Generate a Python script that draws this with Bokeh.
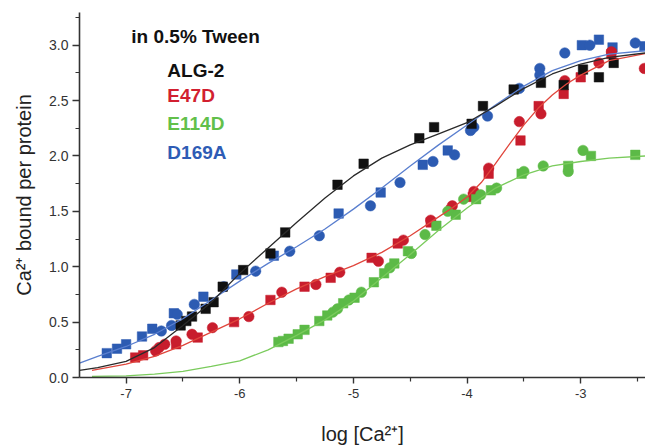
from bokeh.plotting import figure
from bokeh.models import Range1d, FixedTicker, Label
from bokeh.embed import file_html
from bokeh.resources import INLINE

# ---------------- data (log[Ca2+], Ca2+ bound per protein) ----------------
# ALG-2 (black squares)
alg2_sq_x = [-6.52, -6.47, -6.42, -6.30, -6.23, -6.15, -5.97, -5.73, -5.60, -5.14, -4.91,
             -4.42, -4.29, -3.96, -3.86, -3.59, -3.35, -3.15, -2.98, -2.84, -2.71]
alg2_sq_y = [0.47, 0.51, 0.55, 0.62, 0.68, 0.82, 0.97, 1.12, 1.31, 1.74, 1.93,
             2.16, 2.26, 2.29, 2.45, 2.60, 2.66, 2.64, 2.78, 2.71, 2.84]

# E47D (red)
e47d_sq_x = [-6.92, -6.85, -6.56, -6.37, -6.05, -5.73, -5.43, -5.20, -4.84, -4.61, -4.32,
             -4.14, -3.95, -3.81, -3.53, -3.37, -3.15, -3.00, -2.73]
e47d_sq_y = [0.18, 0.20, 0.30, 0.36, 0.50, 0.70, 0.82, 0.90, 1.08, 1.21, 1.40,
             1.51, 1.63, 1.84, 2.14, 2.45, 2.56, 2.71, 2.92]
e47d_ci_x = [-6.74, -6.71, -6.66, -6.56, -6.42, -6.24, -5.92, -5.63, -5.33, -5.12, -4.78,
             -4.56, -4.32, -4.13, -3.94, -3.81, -3.54, -3.35, -3.14, -2.84, -2.73, -2.44]
e47d_ci_y = [0.24, 0.27, 0.30, 0.33, 0.39, 0.45, 0.55, 0.77, 0.84, 0.95, 1.05,
             1.24, 1.42, 1.55, 1.68, 1.89, 2.31, 2.38, 2.68, 2.84, 2.94, 2.79]

# E114D (green)
e114d_sq_x = [-5.66, -5.62, -5.57, -5.49, -5.43, -5.30, -5.23, -5.09, -4.99, -4.82, -4.73,
              -4.64, -4.52, -4.27, -4.10, -3.92, -3.79, -3.52, -3.11, -2.91, -2.52]
e114d_sq_y = [0.32, 0.33, 0.35, 0.39, 0.43, 0.51, 0.56, 0.67, 0.72, 0.86, 0.94,
              1.03, 1.14, 1.37, 1.47, 1.61, 1.69, 1.84, 1.91, 2.00, 2.01]
e114d_ci_x = [-5.18, -5.14, -5.04, -4.93, -4.68, -4.49, -4.37, -4.17, -4.03, -3.88, -3.74,
              -3.50, -3.33, -3.11, -2.98]
e114d_ci_y = [0.59, 0.62, 0.70, 0.77, 0.99, 1.12, 1.29, 1.50, 1.61, 1.65, 1.71,
              1.86, 1.91, 1.86, 2.05]

# D169A (blue)
d169a_sq_x = [-7.17, -7.08, -7.00, -6.86, -6.77, -6.58, -6.32, -6.03, -5.70, -5.13, -4.76,
              -4.39, -4.17, -2.99, -2.84, -2.72, -2.44]
d169a_sq_y = [0.22, 0.26, 0.30, 0.37, 0.44, 0.58, 0.73, 0.93, 1.10, 1.48, 1.67,
              1.92, 2.05, 3.00, 3.05, 2.98, 2.99]
d169a_ci_x = [-6.69, -6.60, -6.55, -6.40, -6.14, -5.86, -5.56, -5.30, -4.85, -4.59, -4.30,
              -4.11, -3.97, -3.94, -3.82, -3.54, -3.36, -3.36, -3.14, -2.92, -2.52]
d169a_ci_y = [0.42, 0.47, 0.57, 0.66, 0.82, 0.96, 1.14, 1.28, 1.55, 1.76, 1.95,
              2.01, 2.23, 2.26, 2.36, 2.61, 2.79, 2.73, 2.93, 3.00, 3.02]

# fitted curves
fit_x = [-7.41, -7.25, -7.0, -6.75, -6.5, -6.25, -6.0, -5.75, -5.5, -5.25, -5.0,
         -4.75, -4.5, -4.25, -4.0, -3.75, -3.5, -3.25, -3.0, -2.75, -2.43]
alg2_fit_y = [0.065, 0.09, 0.145, 0.27, 0.47, 0.68, 0.94, 1.17, 1.40, 1.62, 1.82,
              1.98, 2.10, 2.20, 2.30, 2.45, 2.61, 2.74, 2.83, 2.89, 2.93]
d169a_fit_y = [0.13, 0.19, 0.28, 0.39, 0.53, 0.70, 0.87, 1.03, 1.18, 1.34, 1.52,
               1.71, 1.91, 2.10, 2.28, 2.46, 2.63, 2.77, 2.86, 2.92, 2.95]
e47d_fit_x = [-7.30, -7.0, -6.75, -6.5, -6.25, -6.0, -5.75, -5.5, -5.25, -5.0, -4.75,
              -4.5, -4.25, -4.125, -4.0, -3.875, -3.75, -3.625, -3.5, -3.375, -3.25,
              -3.125, -3.0, -2.75, -2.43]
e47d_fit_y = [0.065, 0.12, 0.19, 0.29, 0.41, 0.53, 0.67, 0.80, 0.91, 1.01, 1.13,
              1.28, 1.45, 1.535, 1.63, 1.76, 1.93, 2.11, 2.28, 2.43, 2.55,
              2.65, 2.73, 2.86, 2.925]
e114d_fit_x = [-7.30, -7.0, -6.75, -6.5, -6.25, -6.0, -5.75, -5.5, -5.25, -5.0,
               -4.75, -4.5, -4.25, -4.0, -3.75, -3.5, -3.25, -3.0, -2.75, -2.43]
e114d_fit_y = [0.01, 0.015, 0.03, 0.055, 0.10, 0.15, 0.25, 0.38, 0.52, 0.69,
               0.90, 1.11, 1.33, 1.53, 1.71, 1.83, 1.91, 1.95, 1.98, 2.00]

x_major = [-7, -6, -5, -4, -3]
x_minor = [-6.5, -5.5, -4.5, -3.5, -2.5]
y_major = [0.0, 0.5, 1.0, 1.5, 2.0, 2.5, 3.0]
y_minor = [0.25, 0.75, 1.25, 1.75, 2.25, 2.75, 3.25]

title_text = "in 0.5% Tween"
legend_names = ["ALG-2", "E47D", "E114D", "D169A"]

# ---------------- styles ----------------
BLACK, RED, GREEN, BLUE = "#111111", "#c81d2d", "#5cba47", "#2c5bb2"
BLACK_L, RED_L, GREEN_L, BLUE_L = "#2a2a2a", "#e0463c", "#7acb5c", "#5a7fcf"
FONT = "Liberation Sans"

p = figure(width=645, height=447, output_backend="svg", toolbar_location=None,
           x_range=Range1d(-7.41, -2.43), y_range=Range1d(0, 3.295),
           min_border_left=79, min_border_right=0, min_border_top=12,
           min_border_bottom=67)
p.grid.visible = False
p.outline_line_color = None
p.background_fill_color = "white"
p.border_fill_color = "white"

xa = p.xaxis[0]
xa.ticker = FixedTicker(ticks=x_major, minor_ticks=x_minor)
xa.major_label_overrides = {t: str(t) for t in x_major}
ya = p.yaxis[0]
ya.ticker = FixedTicker(ticks=y_major, minor_ticks=y_minor)
ya.major_label_overrides = {t: f"{t:.1f}" for t in y_major}

for ax in (xa, ya):
    ax.axis_line_color = "#333333"
    ax.axis_line_width = 1.6
    ax.major_tick_line_color = "#333333"
    ax.minor_tick_line_color = "#333333"
    ax.major_tick_line_width = 1.4
    ax.minor_tick_line_width = 1.2
    ax.major_tick_in = 0
    ax.minor_tick_in = 0
    ax.major_label_text_font = FONT
    ax.major_label_text_color = "#333333"
    ax.axis_label_text_font = FONT
    ax.axis_label_text_font_style = "normal"
    ax.axis_label_text_color = "#222222"
    ax.axis_label_text_font_size = "20px"

xa.major_tick_out = 6
xa.minor_tick_out = 4
xa.major_label_text_font_size = "13px"
xa.major_label_standoff = 5
xa.axis_label = "log [Ca²⁺]"
xa.axis_label_standoff = 22

ya.major_tick_out = 7
ya.minor_tick_out = 4
ya.major_label_text_font_size = "14px"
ya.major_label_standoff = 4
ya.axis_label = "Ca²⁺ bound per protein"
ya.axis_label_standoff = 11

# markers
def pts(xs, ys, color, marker):
    p.scatter(xs, ys, marker=marker, size=(9.5 if marker == "square" else 10.5),
              fill_color=color, line_color=color, line_width=0.5)

pts(d169a_sq_x, d169a_sq_y, BLUE, "square")
pts(d169a_ci_x, d169a_ci_y, BLUE, "circle")
pts(e47d_sq_x, e47d_sq_y, RED, "square")
pts(e47d_ci_x, e47d_ci_y, RED, "circle")
pts(e114d_sq_x, e114d_sq_y, GREEN, "square")
pts(e114d_ci_x, e114d_ci_y, GREEN, "circle")
pts(alg2_sq_x, alg2_sq_y, BLACK, "square")

# fitted curves
p.line(fit_x, d169a_fit_y, line_color=BLUE_L, line_width=1.3)
p.line(e47d_fit_x, e47d_fit_y, line_color=RED_L, line_width=1.3)
p.line(e114d_fit_x, e114d_fit_y, line_color=GREEN_L, line_width=1.3)
p.line(fit_x, alg2_fit_y, line_color=BLACK_L, line_width=1.3)

# legend texts
p.add_layout(Label(x=-6.954, y=3.08, text=title_text, text_font=FONT,
                   text_font_style="bold", text_font_size="19px",
                   text_color="#111111", text_baseline="middle"))
leg_colors = [BLACK, "#d21f30", "#62c04a", "#2e5cb5"]
leg_y = [2.77, 2.545, 2.29, 2.035]
for name, c, yy in zip(legend_names, leg_colors, leg_y):
    p.add_layout(Label(x=-6.637, y=yy, text=name, text_font=FONT,
                       text_font_style="bold", text_font_size="19px",
                       text_color=c, text_baseline="middle"))

open("out.html", "w").write(file_html(p, INLINE))
